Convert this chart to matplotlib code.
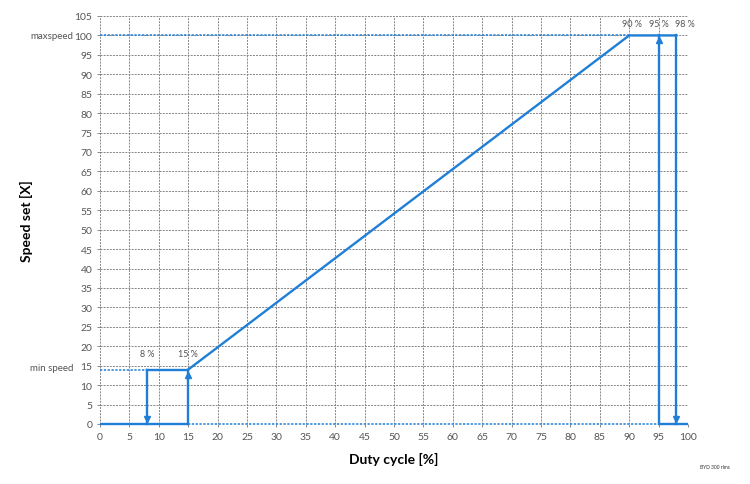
import numpy as np
import matplotlib
matplotlib.use('Agg')
import matplotlib.pyplot as plt

plt.rcParams['font.family'] = ['Lato', 'DejaVu Sans']

# Characteristic values.
min_speed = 14
max_speed = 100
duty_off_low = 8
duty_on_low = 15
duty_full = 90
duty_on_high = 95
duty_off_high = 98

x_ticks = list(range(0, 101, 5))
y_ticks = list(range(0, 106, 5))

blue = '#1f7ed6'
grey_txt = '#555555'

fig = plt.figure(figsize=(7.5, 4.85), dpi=100)
ax = fig.add_axes([100/750, 1 - 425/485, 588/750, 408/485])
ax.set_xlim(0, 100)
ax.set_ylim(0, 105)

for s in ax.spines.values():
    s.set_visible(False)

ax.set_xticks(x_ticks)
ax.set_yticks(y_ticks)
ax.tick_params(labelsize=7.5, labelcolor=grey_txt, length=2, color='#777777', width=0.6)
ax.grid(True, color='#858585', linestyle=(0, (2, 1.2)), linewidth=0.7)
ax.set_axisbelow(True)

lw = 1.7
dot = dict(color=blue, lw=1.1, ls=(0, (1.5, 1)), clip_on=False)
# dotted reference lines
ax.plot([0, duty_off_low], [min_speed, min_speed], **dot)
ax.plot([0, duty_full], [max_speed, max_speed], **dot)
ax.plot([duty_on_low, duty_on_high], [0, 0], **dot)

# solid characteristic
sol = dict(color=blue, lw=lw, clip_on=False)
ax.plot([0, duty_on_low], [0, 0], solid_capstyle='butt', **sol)
ax.plot([duty_on_low, duty_on_low], [0, min_speed], **sol)
ax.plot([duty_off_low, duty_on_low], [min_speed, min_speed], **sol)
ax.plot([duty_off_low, duty_off_low], [min_speed, 0], **sol)
ax.plot([duty_on_low, duty_full, duty_off_high], [min_speed, max_speed, max_speed], **sol)
ax.plot([duty_off_high, duty_off_high], [max_speed, 0], **sol)
ax.plot([duty_on_high, duty_on_high], [0, max_speed], **sol)
ax.plot([duty_on_high, 100], [0, 0], solid_capstyle='butt', **sol)

# arrow heads
ax.plot([duty_on_low], [min_speed - 1.3], marker='^', color=blue, ms=4.5, clip_on=False)
ax.plot([duty_on_high], [max_speed - 1.3], marker='^', color=blue, ms=4.5, clip_on=False)
ax.plot([duty_off_low], [1.3], marker='v', color=blue, ms=4.5, clip_on=False)
ax.plot([duty_off_high], [1.3], marker='v', color=blue, ms=4.5, clip_on=False)

# percent labels
lab = dict(va='bottom', fontsize=6.5, color=grey_txt)
ax.text(duty_off_low, 17, f'{duty_off_low} %', ha='center', **lab)
ax.text(duty_on_low, 17, f'{duty_on_low} %', ha='center', **lab)
ax.text(duty_full + 0.4, 101.8, f'{duty_full} %', ha='center', **lab)
ax.text(duty_on_high, 101.8, f'{duty_on_high} %', ha='center', **lab)
ax.text(duty_off_high - 0.2, 101.8, f'{duty_off_high} %', ha='left', **lab)

ax.text(-4.5, max_speed, 'maxspeed', ha='right', va='center', fontsize=7, color=grey_txt)
ax.text(-4.5, min_speed + 0.5, 'min speed', ha='right', va='center', fontsize=7, color=grey_txt)

ax.set_xlabel('Duty cycle [%]', fontsize=10, fontweight='bold', labelpad=8)
ax.set_ylabel('Speed set [X]', fontsize=10, fontweight='bold', labelpad=30)

fig.text(715/750, 1 - 468/485, 'BYD 300 rlms', ha='center', va='center', fontsize=3.5, color='#333333')

fig.savefig('out.png', dpi=100, facecolor='white')
